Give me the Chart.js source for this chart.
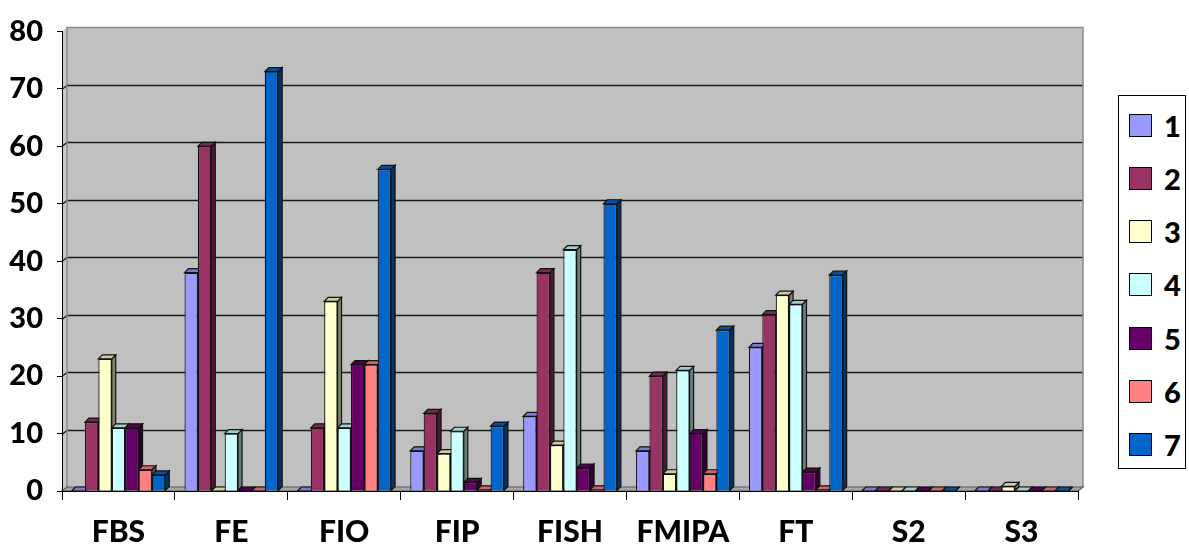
<!DOCTYPE html>
<html>
<head>
<meta charset="utf-8">
<script src="https://cdn.jsdelivr.net/npm/chart.js@4.4.1/dist/chart.umd.min.js"></script>
<style>
  html, body { margin: 0; padding: 0; background: #fff; }
  #wrap { position: relative; width: 1189px; height: 548px; overflow: hidden; }
  #chart { position: absolute; left: 0; top: 0; }
  #legend {
    position: absolute; left: 1118px; top: 95px; width: 68px; height: 374px;
    border: 1px solid #000; box-sizing: border-box; background: #fff;
  }
  #legend .item {
    position: absolute; left: 10px; height: 30px; display: flex; align-items: center;
    font: 900 29px Lato, "Open Sans", sans-serif; color: #000;
  }
  #legend .sw {
    width: 23px; height: 23px; border: 1px solid #000; box-sizing: border-box; margin-right: 12px;
  }
</style>
</head>
<body>
<div id="wrap">
  <canvas id="chart" width="1189" height="548"></canvas>
  <div id="legend"></div>
</div>
<script>
// Faculties on the category axis
const categories = ['FBS', 'FE', 'FIO', 'FIP', 'FISH', 'FMIPA', 'FT', 'S2', 'S3'];

// One array per series, in category order
const series1 = [0, 38, 0, 7, 13, 7, 25, 0, 0];
const series2 = [12, 60, 11, 13.5, 38, 20, 30.7, 0, 0];
const series3 = [23, 0, 33, 6.5, 8, 3, 34.1, 0, 0.8];
const series4 = [11, 10, 11, 10.4, 42, 21, 32.5, 0, 0];
const series5 = [11, 0, 22, 1.5, 4, 10, 3.3, 0, 0];
const series6 = [3.7, 0, 22, 0.2, 0.2, 3, 0.2, 0, 0];
const series7 = [2.8, 73, 56, 11.3, 50, 28, 37.6, 0, 0];

const seriesNames = ['1', '2', '3', '4', '5', '6', '7'];
const seriesColors = ['#9999FF', '#993366', '#FFFFCC', '#CCFFFF', '#660066', '#FF8080', '#0066CC'];

// Value axis
const yMin = 0, yMax = 80, yStep = 10;

const allSeries = [series1, series2, series3, series4, series5, series6, series7];

// Depth of the walls/floor and of each column, in pixels
const WALL = { dx: 5, dy: 4 };
const COL = { dx: 4, dy: 4 };

function shade(hex, f) {
  const n = parseInt(hex.slice(1), 16);
  const r = Math.round(((n >> 16) & 255) * f);
  const g = Math.round(((n >> 8) & 255) * f);
  const b = Math.round((n & 255) * f);
  return `rgb(${r},${g},${b})`;
}

function poly(ctx, pts, fill, stroke) {
  ctx.beginPath();
  ctx.moveTo(pts[0][0], pts[0][1]);
  for (let i = 1; i < pts.length; i++) ctx.lineTo(pts[i][0], pts[i][1]);
  ctx.closePath();
  if (fill) { ctx.fillStyle = fill; ctx.fill(); }
  if (stroke) { ctx.strokeStyle = stroke; ctx.lineWidth = 1.2; ctx.stroke(); }
}

// Back wall, side wall, floor and gridlines of the 3-D plot box
const wallsPlugin = {
  id: 'walls',
  beforeDraw(chart) {
    const { ctx, chartArea: a, scales: { y } } = chart;
    const { dx, dy } = WALL;
    ctx.save();
    // back wall
    poly(ctx, [[a.left + dx, a.top - dy], [a.right + dx, a.top - dy],
               [a.right + dx, a.bottom - dy], [a.left + dx, a.bottom - dy]], '#C0C0C0', null);
    // left side wall
    poly(ctx, [[a.left, a.top], [a.left + dx, a.top - dy],
               [a.left + dx, a.bottom - dy], [a.left, a.bottom]], '#C8C8C8', null);
    // gridlines
    ctx.strokeStyle = '#1a1a1a';
    ctx.lineWidth = 1.3;
    for (let v = yMin + yStep; v < yMax; v += yStep) {
      const py = Math.round(y.getPixelForValue(v)) + 0.5;
      ctx.beginPath();
      ctx.moveTo(a.left, py);
      ctx.lineTo(a.left + dx, py - dy);
      ctx.lineTo(a.right + dx, py - dy);
      ctx.stroke();
    }
    // wall outline
    ctx.strokeStyle = '#8a8a8a';
    ctx.lineWidth = 1.5;
    ctx.beginPath();
    ctx.moveTo(a.left + dx, a.bottom - dy);
    ctx.lineTo(a.left + dx, a.top - dy);
    ctx.lineTo(a.right + dx, a.top - dy);
    ctx.lineTo(a.right + dx, a.bottom - dy);
    ctx.stroke();
    // floor
    poly(ctx, [[a.left, a.bottom], [a.right, a.bottom],
               [a.right + dx, a.bottom - dy], [a.left + dx, a.bottom - dy]], '#A6A6A6', '#5a5a5a');
    ctx.restore();
  },
  // side and top faces of every column, drawn left to right before the front faces
  beforeDatasetsDraw(chart) {
    const { ctx } = chart;
    const { dx, dy } = COL;
    ctx.save();
    ctx.lineJoin = 'miter';
    for (let c = 0; c < categories.length; c++) {
      chart.data.datasets.forEach((ds, i) => {
        const meta = chart.getDatasetMeta(i);
        const bar = meta.data[c];
        if (!bar) return;
        const { x, y, base, width } = bar.getProps(['x', 'y', 'base', 'width'], true);
        const x0 = x - width / 2, x1 = x + width / 2;
        const col = seriesColors[i];
        // side face
        poly(ctx, [[x1, y], [x1 + dx, y - dy], [x1 + dx, base - dy], [x1, base]], shade(col, 0.5), '#111');
        // top face
        poly(ctx, [[x0, y], [x1, y], [x1 + dx, y - dy], [x0 + dx, y - dy]], shade(col, 0.8), '#111');
      });
    }
    ctx.restore();
  }
};

const datasets = allSeries.map((vals, i) => ({
  label: seriesNames[i],
  data: vals,
  backgroundColor: seriesColors[i],
  borderColor: '#111',
  borderWidth: 1.2,
  borderSkipped: 'start',
  barPercentage: 1.0,
  categoryPercentage: 0.83
}));

const labelFont = { family: 'Lato', weight: '900', size: 29 };

new Chart(document.getElementById('chart'), {
  type: 'bar',
  data: { labels: categories, datasets },
  options: {
    responsive: false,
    animation: false,
    events: [],
    layout: { padding: { left: 0, top: 24, right: 111, bottom: 0 } },
    plugins: { legend: { display: false }, tooltip: { enabled: false }, title: { display: false } },
    scales: {
      x: {
        offset: true,
        grid: { display: true, offset: true, drawOnChartArea: false, drawTicks: true, tickLength: 9, color: '#000' },
        border: { display: true, color: '#000', width: 1 },
        ticks: { color: '#000', font: { family: 'Lato', weight: '900', size: 30 }, padding: 14, maxRotation: 0 },
        afterFit(scale) { scale.height = 57; }
      },
      y: {
        min: yMin,
        max: yMax,
        grid: { display: true, drawOnChartArea: false, drawTicks: true, tickLength: 5, color: '#000' },
        border: { display: true, color: '#000', width: 1 },
        ticks: { stepSize: yStep, color: '#000', font: labelFont, padding: 14 },
        afterFit(scale) { scale.width = 62; }
      }
    }
  },
  plugins: [wallsPlugin]
});

// Legend box built from the same series names and colours
const legend = document.getElementById('legend');
seriesNames.forEach((name, i) => {
  const item = document.createElement('div');
  item.className = 'item';
  item.style.top = (14 + i * 53.3) + 'px';
  const sw = document.createElement('div');
  sw.className = 'sw';
  sw.style.background = seriesColors[i];
  const tx = document.createElement('span');
  tx.textContent = name;
  item.appendChild(sw);
  item.appendChild(tx);
  legend.appendChild(item);
});
</script>
</body>
</html>
